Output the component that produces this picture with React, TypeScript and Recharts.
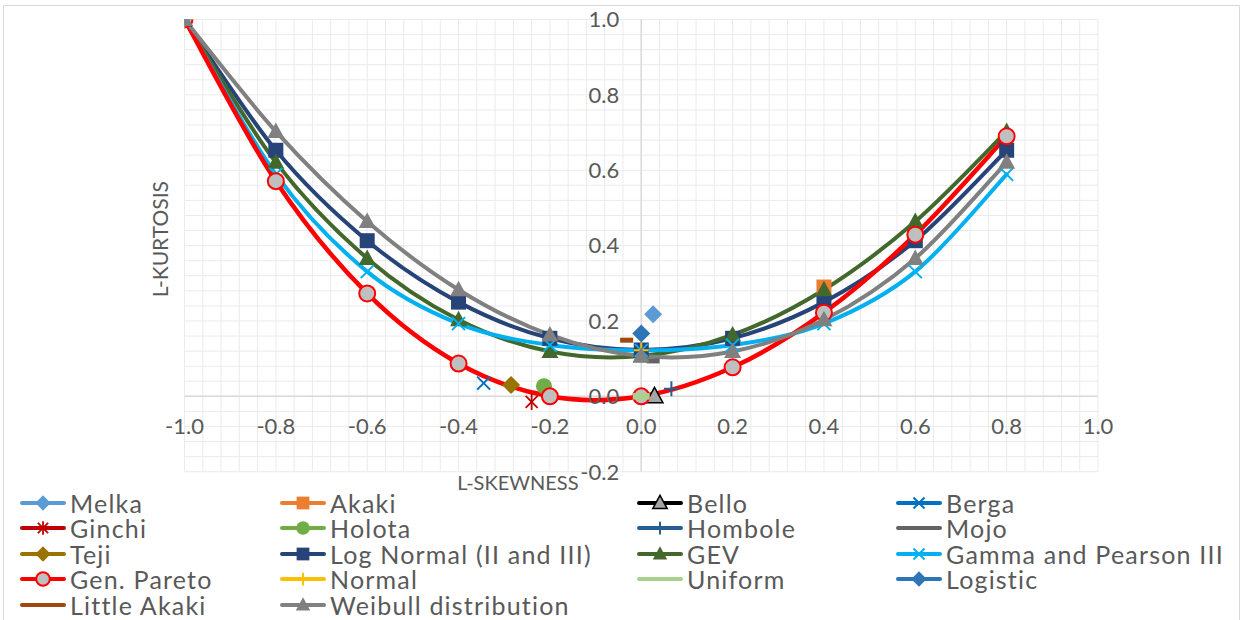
import React from 'react';
import {
  ComposedChart,
  Line,
  XAxis,
  YAxis,
  ReferenceLine,
  ReferenceDot,
} from 'recharts';

// L-moment ratio diagram: theoretical curves
const SKEW = [-1.0, -0.8, -0.6, -0.4, -0.2, 0.0, 0.2, 0.4, 0.6, 0.8];
const LOG_NORMAL = [1.0, 0.653, 0.413, 0.25, 0.154, 0.123, 0.154, 0.25, 0.413, 0.653];
const GEV = [1.0, 0.621, 0.366, 0.203, 0.119, 0.107, 0.163, 0.283, 0.464, 0.703];
const GAMMA = [1.0, 0.589, 0.331, 0.193, 0.136, 0.122, 0.136, 0.193, 0.331, 0.589];
const GEN_PARETO = [1.0, 0.571, 0.273, 0.087, 0.0, 0.0, 0.077, 0.222, 0.429, 0.69];
const WEIBULL = [1.0, 0.703, 0.464, 0.283, 0.163, 0.107, 0.119, 0.203, 0.366, 0.621];

// gauging stations (single points)
const SITE_NAMES = ['Melka', 'Akaki', 'Bello', 'Berga', 'Ginchi', 'Holota', 'Hombole', 'Mojo', 'Teji', 'Little Akaki'];
const SITE_SKEW = [0.026, 0.4, 0.029, -0.345, -0.24, -0.213, 0.066, 0.026, -0.285, -0.032];
const SITE_KURT = [0.218, 0.29, 0.0, 0.035, -0.015, 0.027, 0.02, 0.094, 0.03, 0.149];

// single-point distributions
const POINT_NAMES = ['Normal', 'Uniform', 'Logistic'];
const POINT_SKEW = [0.0, 0.0, 0.0];
const POINT_KURT = [0.1226, 0.0, 0.1667];

const X_LABELS = [-1.0, -0.8, -0.6, -0.4, -0.2, 0.0, 0.2, 0.4, 0.6, 0.8, 1.0];
const Y_LABELS = [-0.2, 0.0, 0.2, 0.4, 0.6, 0.8, 1.0];

// major + minor gridlines every 0.04
const GRID_X = Array.from({ length: 51 }, (_, i) => +(-1 + i * 0.04).toFixed(2));
const GRID_Y = Array.from({ length: 31 }, (_, i) => +(-0.2 + i * 0.04).toFixed(2));

const FONT = 'Lato, "Noto Sans", sans-serif';
const TEXT = '#595959';

type Kind = 'diamond' | 'square' | 'triangle' | 'x' | 'star' | 'circle' | 'plus' | 'dash' | 'none';

interface Style {
  color: string;
  kind: Kind;
  fill?: string;
  outline?: string;
  size?: number;
}

const STYLES: Record<string, Style> = {
  Melka: { color: '#5B9BD5', kind: 'diamond' },
  Akaki: { color: '#ED7D31', kind: 'square' },
  Bello: { color: '#000000', kind: 'triangle', fill: '#A5A5A5', outline: '#000000' },
  Berga: { color: '#0070C0', kind: 'x' },
  Ginchi: { color: '#C00000', kind: 'star' },
  Holota: { color: '#70AD47', kind: 'circle' },
  Hombole: { color: '#255E91', kind: 'plus' },
  Mojo: { color: '#636363', kind: 'dash' },
  Teji: { color: '#997300', kind: 'diamond' },
  'Log Normal (II and III)': { color: '#264478', kind: 'square' },
  GEV: { color: '#43682B', kind: 'triangle' },
  'Gamma and Pearson III': { color: '#00B0F0', kind: 'x' },
  'Gen. Pareto': { color: '#FF0000', kind: 'circle', fill: '#BFBFBF', outline: '#FF0000' },
  Normal: { color: '#FFC000', kind: 'plus' },
  Uniform: { color: '#A9D18E', kind: 'dash', size: 1.3 },
  Logistic: { color: '#2E75B6', kind: 'diamond' },
  'Little Akaki': { color: '#9E480E', kind: 'dash' },
  'Weibull distribution': { color: '#808080', kind: 'triangle' },
};

const LEGEND_ORDER = [
  'Melka', 'Akaki', 'Bello', 'Berga',
  'Ginchi', 'Holota', 'Hombole', 'Mojo',
  'Teji', 'Log Normal (II and III)', 'GEV', 'Gamma and Pearson III',
  'Gen. Pareto', 'Normal', 'Uniform', 'Logistic',
  'Little Akaki', 'Weibull distribution',
];

function marker(st: Style, cx: number, cy: number, k = 1) {
  const fill = st.fill ?? st.color;
  const s = (st.size ?? 1) * k;
  switch (st.kind) {
    case 'diamond': {
      const r = 9 * s;
      return <polygon points={`${cx},${cy - r} ${cx + r},${cy} ${cx},${cy + r} ${cx - r},${cy}`} fill={fill} />;
    }
    case 'square': {
      const r = 7.5 * s;
      return <rect x={cx - r} y={cy - r} width={2 * r} height={2 * r} fill={fill} />;
    }
    case 'triangle': {
      const w = 8.5 * s;
      return (
        <polygon
          points={`${cx},${cy - 9 * s} ${cx + w},${cy + 6.5 * s} ${cx - w},${cy + 6.5 * s}`}
          fill={fill}
          stroke={st.outline ?? 'none'}
          strokeWidth={1.5}
        />
      );
    }
    case 'x': {
      const r = 6.5 * s;
      return (
        <g stroke={st.color} strokeWidth={2}>
          <line x1={cx - r} y1={cy - r} x2={cx + r} y2={cy + r} />
          <line x1={cx - r} y1={cy + r} x2={cx + r} y2={cy - r} />
        </g>
      );
    }
    case 'star': {
      const r = 6 * s;
      return (
        <g stroke={st.color} strokeWidth={1.8}>
          <line x1={cx - r} y1={cy - r} x2={cx + r} y2={cy + r} />
          <line x1={cx - r} y1={cy + r} x2={cx + r} y2={cy - r} />
          <line x1={cx} y1={cy - 8 * s} x2={cx} y2={cy + 8 * s} />
        </g>
      );
    }
    case 'circle':
      return (
        <circle
          cx={cx}
          cy={cy}
          r={8 * s}
          fill={fill}
          stroke={st.outline ?? 'none'}
          strokeWidth={2}
        />
      );
    case 'plus': {
      const r = 7.5 * s;
      return (
        <g stroke={st.color} strokeWidth={2}>
          <line x1={cx} y1={cy - r} x2={cx} y2={cy + r} />
          <line x1={cx - r} y1={cy} x2={cx + r} y2={cy} />
        </g>
      );
    }
    case 'dash': {
      const w = 6.5 * s;
      return <rect x={cx - w} y={cy - 2.5 * s} width={2 * w} height={5 * s} fill={st.color} />;
    }
    default:
      return null;
  }
}

function dotFor(name: string) {
  const st = STYLES[name];
  return (p: any) => (
    <g key={`${name}-${p.index}`}>{p.cx == null ? null : marker(st, p.cx, p.cy)}</g>
  );
}

// Excel-like smoothed line (Catmull-Rom through the points)
function excelSmooth(context: any) {
  let pts: number[][] = [];
  return {
    areaStart() {},
    areaEnd() {},
    lineStart() {
      pts = [];
    },
    point(x: number, y: number) {
      pts.push([+x, +y]);
    },
    lineEnd() {
      if (!pts.length) return;
      context.moveTo(pts[0][0], pts[0][1]);
      for (let i = 0; i < pts.length - 1; i++) {
        const p0 = pts[i - 1] || pts[i];
        const p1 = pts[i];
        const p2 = pts[i + 1];
        const p3 = pts[i + 2] || p2;
        context.bezierCurveTo(
          p1[0] + (p2[0] - p0[0]) / 6,
          p1[1] + (p2[1] - p0[1]) / 6,
          p2[0] - (p3[0] - p1[0]) / 6,
          p2[1] - (p3[1] - p1[1]) / 6,
          p2[0],
          p2[1],
        );
      }
    },
  };
}

const toPoints = (ys: number[]) => SKEW.map((x, i) => ({ x, y: ys[i] }));

const CURVES: Record<string, number[]> = {
  'Log Normal (II and III)': LOG_NORMAL,
  GEV: GEV,
  'Gamma and Pearson III': GAMMA,
  'Gen. Pareto': GEN_PARETO,
  'Weibull distribution': WEIBULL,
};

const singlePoint = (names: string[], xs: number[], ys: number[], name: string) => {
  const i = names.indexOf(name);
  return [{ x: xs[i], y: ys[i] }];
};

// series in Excel plotting order (later = on top)
const DRAW_ORDER = [
  'Melka', 'Akaki', 'Bello', 'Berga', 'Ginchi', 'Holota', 'Hombole', 'Mojo', 'Teji',
  'Log Normal (II and III)', 'GEV', 'Gamma and Pearson III', 'Gen. Pareto',
  'Normal', 'Uniform', 'Logistic', 'Little Akaki', 'Weibull distribution',
];

function seriesData(name: string) {
  if (CURVES[name]) return toPoints(CURVES[name]);
  if (SITE_NAMES.includes(name)) return singlePoint(SITE_NAMES, SITE_SKEW, SITE_KURT, name);
  return singlePoint(POINT_NAMES, POINT_SKEW, POINT_KURT, name);
}

function LegendBlock() {
  const cols = [20, 280, 637, 896];
  const rowH = 25.5;
  return (
    <div
      style={{
        position: 'absolute',
        left: 0,
        top: 490,
        width: 1243,
        fontFamily: FONT,
        fontSize: 25,
        letterSpacing: 1.2,
        color: TEXT,
      }}
    >
      {LEGEND_ORDER.map((name, i) => {
        const st = STYLES[name];
        const showMarker = st.kind !== 'dash';
        return (
          <div
            key={name}
            style={{
              position: 'absolute',
              left: cols[i % 4],
              top: Math.floor(i / 4) * rowH,
              height: rowH,
              display: 'flex',
              alignItems: 'center',
              whiteSpace: 'nowrap',
              lineHeight: '24px',
            }}
          >
            <svg width={46} height={20} style={{ display: 'block' }}>
              <line x1={2} y1={10} x2={44} y2={10} stroke={st.color} strokeWidth={4} strokeLinecap="round" />
              {showMarker ? marker(st, 23, 10, 0.85) : null}
            </svg>
            <span style={{ marginLeft: 4 }}>{name}</span>
          </div>
        );
      })}
    </div>
  );
}

export default function App() {
  return (
    <div style={{ position: 'absolute', left: 0, top: 0, width: 1243, height: 620, background: '#fff', overflow: 'hidden' }}>
      <div style={{ position: 'absolute', left: 3, top: 5, width: 1235, height: 640, border: '1px solid #D9D9D9' }} />
      <div style={{ position: 'absolute', left: 0, top: 0 }}>
        <ComposedChart
          width={1243}
          height={620}
          margin={{ top: 19.5, right: 145, bottom: 148.3, left: 184.5 }}
        >
          <XAxis
            type="number"
            dataKey="x"
            domain={[-1, 1]}
            ticks={X_LABELS}
            allowDataOverflow
            axisLine={false}
            tickLine={false}
            tick={false}
            height={0}
          />
          <YAxis
            type="number"
            dataKey="y"
            domain={[-0.2, 1]}
            ticks={Y_LABELS}
            allowDataOverflow
            axisLine={false}
            tickLine={false}
            tick={false}
            width={0}
          />
          {GRID_X.map((v) => (
            <ReferenceLine key={`gx${v}`} x={v} stroke="#EBEBEB" strokeWidth={1} zIndex={-100} />
          ))}
          {GRID_Y.map((v) => (
            <ReferenceLine key={`gy${v}`} y={v} stroke="#EBEBEB" strokeWidth={1} zIndex={-100} />
          ))}
          <ReferenceLine x={0} stroke="#D9D9D9" strokeWidth={1.5} zIndex={-90} />
          <ReferenceLine y={0} stroke="#D9D9D9" strokeWidth={1.5} zIndex={-90} />
          {X_LABELS.map((v) => (
            <ReferenceDot
              key={`xl${v}`}
              x={v}
              y={0}
              r={0}
              fill="none"
              stroke="none"
              label={{ value: v.toFixed(1), position: 'bottom', offset: 22, fill: TEXT, fontSize: 22, fontFamily: FONT }}
            />
          ))}
          {Y_LABELS.map((v) => (
            <ReferenceDot
              key={`yl${v}`}
              x={0}
              y={v}
              r={0}
              fill="none"
              stroke="none"
              label={{ value: v.toFixed(1), position: 'left', offset: 22, fill: TEXT, fontSize: 22, fontFamily: FONT }}
            />
          ))}
          <ReferenceDot
            x={-0.27}
            y={-0.2}
            r={0}
            fill="none"
            stroke="none"
            ifOverflow="visible"
            label={{ value: 'L-SKEWNESS', position: 'bottom', offset: 4, fill: TEXT, fontSize: 20, fontFamily: FONT }}
          />
          <ReferenceDot
            x={-1.052}
            y={0.417}
            r={0}
            fill="none"
            stroke="none"
            ifOverflow="visible"
            label={{ value: 'L-KURTOSIS', position: 'center', angle: -90, fill: TEXT, fontSize: 21, fontFamily: FONT }}
          />
          {DRAW_ORDER.map((name) => {
            const st = STYLES[name];
            const curve = !!CURVES[name];
            return (
              <Line
                key={name}
                name={name}
                data={seriesData(name)}
                dataKey="y"
                type={excelSmooth as any}
                stroke={curve ? st.color : 'none'}
                strokeWidth={name === 'Gen. Pareto' ? 4.5 : 4}
                strokeLinecap="round"
                dot={dotFor(name)}
                activeDot={false}
                isAnimationActive={false}
                legendType="none"
              />
            );
          })}
        </ComposedChart>
      </div>
      <LegendBlock />
    </div>
  );
}
